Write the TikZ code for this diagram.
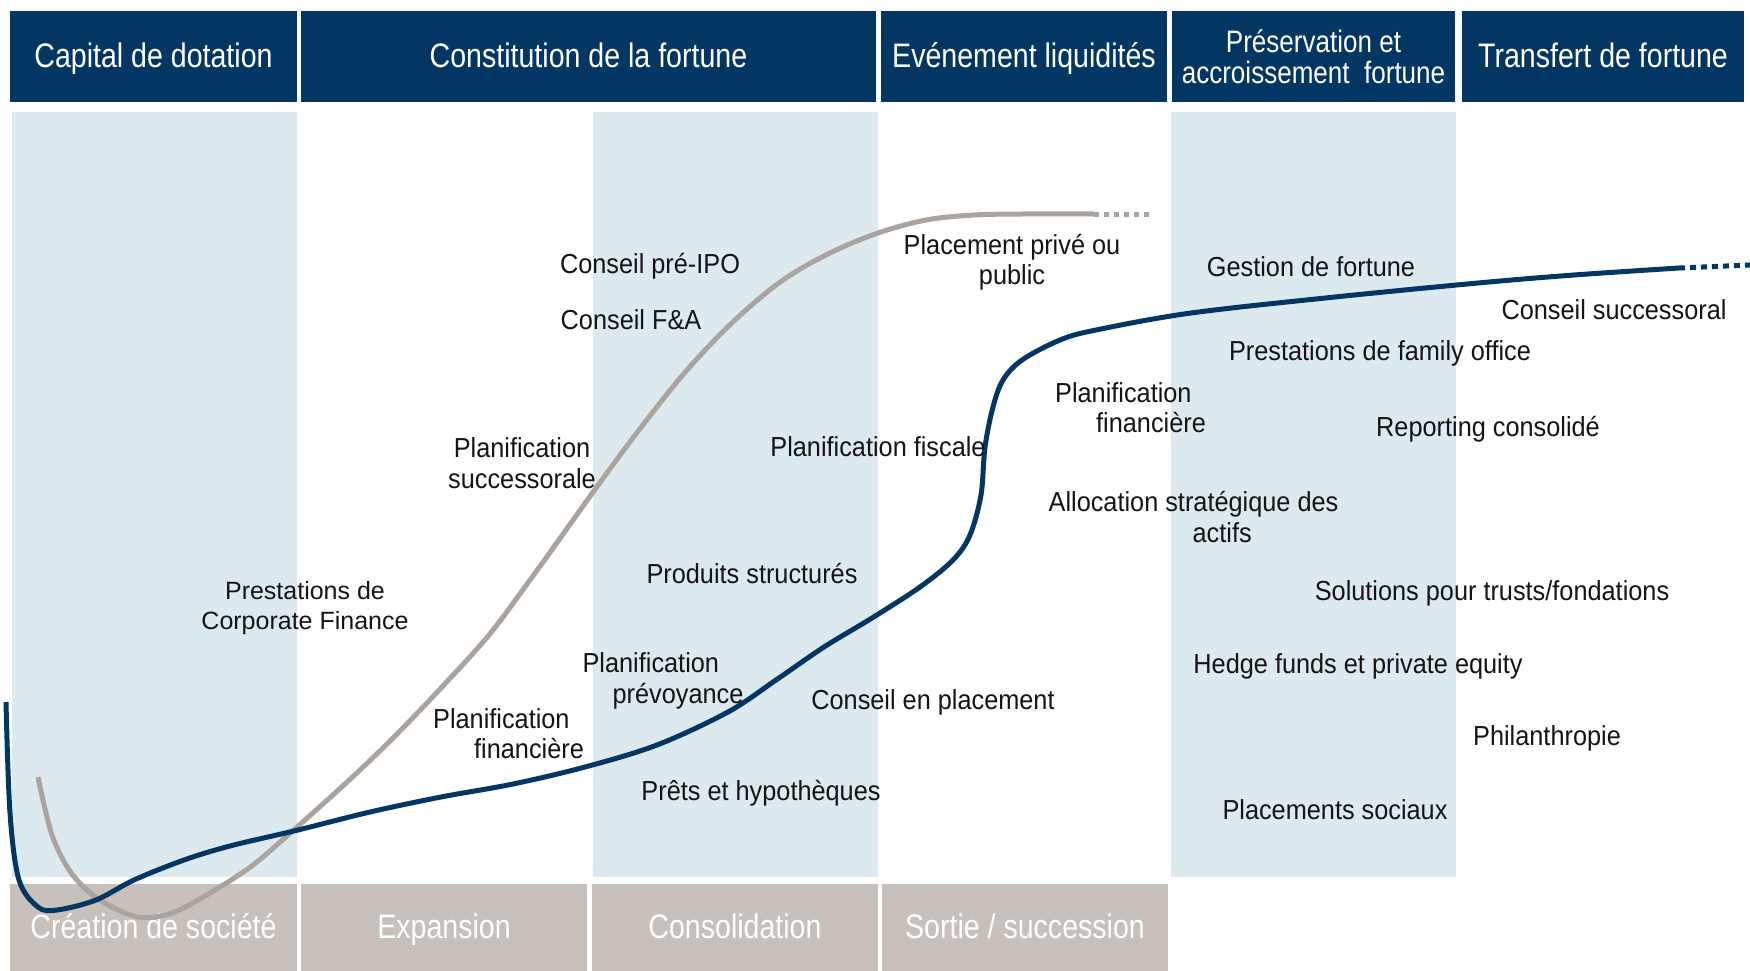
\documentclass[tikz,border=0pt]{standalone}
\usepackage{fontspec}
\setmainfont{Liberation Sans}
\newfontfamily\headfont[FakeStretch=0.84]{Liberation Sans}
\newfontfamily\bodyfont[FakeStretch=0.92]{Liberation Sans}
\definecolor{navy}{RGB}{4,54,99}
\definecolor{paleblue}{RGB}{220,234,240}
\definecolor{taupe}{RGB}{199,192,187}
\definecolor{curvegrey}{RGB}{170,163,158}
\definecolor{ink}{RGB}{20,20,20}
\begin{document}
\begin{tikzpicture}[x=1pt,y=-1pt,
  boxbase/.style={text=white, align=center, inner sep=0pt},
  hdr/.style={boxbase, fill=navy, font=\headfont\fontsize{34}{32}\selectfont, minimum height=91pt, text height=26.5pt, text depth=4.5pt},
  hdrtwo/.style={boxbase, fill=navy, font=\headfont\fontsize{31}{31}\selectfont, minimum height=91pt},
  phase/.style={boxbase, fill=taupe, font=\headfont\fontsize{34}{32}\selectfont, minimum height=87pt, text height=26pt, text depth=5pt},
  lbl/.style={text=ink, font=\bodyfont\fontsize{27.5}{30.5}\selectfont, inner sep=0pt},
  mlbl/.style={lbl, align=left},
  clbl/.style={lbl, align=center},
  navyline/.style={draw=navy, line width=5pt},
  greyline/.style={draw=curvegrey, line width=5pt}
]
\useasboundingbox (0,0) rectangle (1750,971);
% light columns
\fill[paleblue] (12,112) rectangle (297,877);
\fill[paleblue] (593,112) rectangle (878,877);
\fill[paleblue] (1171,112) rectangle (1456,877);
% header boxes
\node[hdr, minimum width=287pt] (h1) at (153.5,56.5) {Capital de dotation};
\node[hdr, minimum width=575pt] (h2) at (588.5,56.5) {Constitution de la fortune};
\node[hdr, minimum width=286pt] (h3) at (1024,56.5) {Evénement liquidités};
\node[hdrtwo, minimum width=283pt] (h4) at (1313.5,56.5) {Préservation et\\accroissement~~fortune};
\node[hdr, minimum width=282pt] (h5) at (1603,56.5) {Transfert de fortune};
% bottom phases
\node[phase, minimum width=287pt] (p1) at (153.5,927.5) {Création de société};
\node[phase, minimum width=286pt] (p2) at (444,927.5) {Expansion};
\node[phase, minimum width=286pt] (p3) at (735,927.5) {Consolidation};
\node[phase, minimum width=286pt] (p4) at (1025,927.5) {Sortie / succession};
% grey curve
\draw[greyline] plot[smooth, tension=0.55] coordinates {
 (38,777) (52,835) (72,874) (100,900) (138,917) (172,913) (210,893) (249,868)
 (279,843) (346,783) (393,738) (441,688) (489,635) (530,580) (561,537) (596,488)
 (639,430) (687,370) (735,320) (783,280) (830,253) (878,233) (926,220) (974,215)
 (1022,214) (1094,214)};
\draw[greyline, dash pattern=on 5pt off 5pt] (1094,214) -- (1153,214);
% navy curve
\draw[navyline] plot[smooth, tension=0.55] coordinates {
 (6,702) (10,813) (19,880) (38,907) (57,910) (96,900) (134,880) (184,860)
 (230,846) (298,830) (370,812) (441,797) (513,784) (585,767) (657,745) (728,712)
 (776,680) (824,647) (872,618) (920,587) (953,560) (970,535) (981,495) (985,447)
 (993,407) (1003,380) (1022,360) (1060,340) (1096,330) (1191,313) (1335,297)
 (1478,283) (1574,275) (1679,268)};
\draw[navyline, dash pattern=on 6pt off 5pt] (1679,268) -- (1750,265);
% labels
\node[clbl, font=\fontsize{25}{30}\selectfont] (corp) at (305,608) {Prestations de\\Corporate Finance};
\node[lbl] (ipo) at (650,266) {Conseil pré-IPO};
\node[lbl] (fa) at (631,320) {Conseil F\&A};
\node[clbl] (succ) at (522,463) {Planification\\successorale};
\node[clbl] (plac) at (1012,262) {Placement privé ou\\public};
\node[lbl] (fisc) at (878,447) {Planification fiscale};
\node[lbl] (prod) at (752,574) {Produits structurés};
\node[mlbl] (prev) at (663,681) {Planification\\\hspace*{30pt}prévoyance};
\node[mlbl] (fin1) at (508.5,733.5) {Planification\\\hspace*{41pt}financière};
\node[lbl] (cep) at (933,702) {Conseil en placement};
\node[lbl] (pret) at (761,793) {Prêts et hypothèques};
\node[lbl] (gest) at (1311,267) {Gestion de fortune};
\node[lbl] (csuc) at (1614,310) {Conseil successoral};
\node[lbl] (famo) at (1380,353) {Prestations de family office};
\node[mlbl] (fin2) at (1130.5,407.5) {Planification\\\hspace*{41pt}financière};
\node[lbl] (repo) at (1488,429) {Reporting consolidé};
\node[mlbl] (alloc) at (1193.5,517) {Allocation stratégique des\\\hspace*{144pt}actifs};
\node[lbl] (trust) at (1492,593) {Solutions pour trusts/fondations};
\node[lbl] (hedge) at (1358,666) {Hedge funds et private equity};
\node[lbl] (phil) at (1547,738) {Philanthropie};
\node[lbl] (soc) at (1335,810) {Placements sociaux};
\end{tikzpicture}
\end{document}
